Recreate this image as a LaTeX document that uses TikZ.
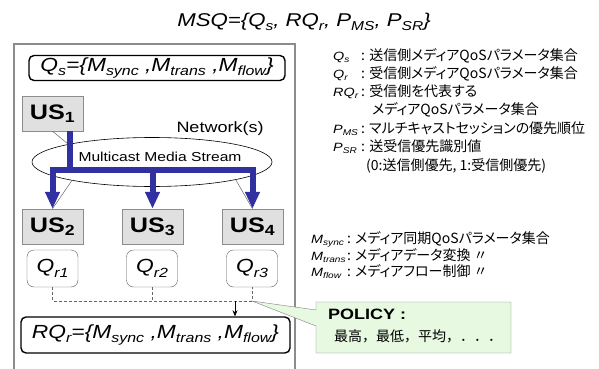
\documentclass[tikz,border=0pt]{standalone}
\usepackage{fontspec}
\setmainfont{Liberation Sans}[FakeStretch=1.2]
\newfontfamily\jpfont{Noto Sans CJK JP}[RawFeature=+palt]
\newfontfamily\jpwide{Noto Sans CJK JP}
\usetikzlibrary{shapes.geometric,shapes.callouts,arrows.meta}
\definecolor{streamblue}{RGB}{48,48,160}
\definecolor{policygreen}{RGB}{232,249,226}
\newcommand{\fs}[1]{\fontsize{#1}{#1}\selectfont}
\makeatletter
\newcommand{\sbi}[1]{\raisebox{-0.45ex}{\fontsize{\fpeval{0.7*\f@size}}{1}\selectfont\itshape #1}}
\makeatother
\tikzset{
    usbox/.style={draw=black!45, fill=black!12, minimum width=61pt, minimum height=35pt,
        inner sep=0pt, font={\fs{21}\bfseries}},
    qrbox/.style={draw=black!65, rounded corners=7pt, minimum width=51pt, minimum height=37pt,
        inner sep=0pt, font={\fs{19}\itshape}},
    setbox/.style={draw, line width=1.4pt, rounded corners=5pt, inner sep=0pt, font={\fs{19}\itshape}},
    stream/.style={draw=streamblue, line width=6pt},
    streamarrow/.style={stream, -{Triangle[length=17pt,width=14pt]}},
    link/.style={draw=black!60, line width=0.5pt},
    gather/.style={draw=black!60, dash pattern=on 3pt off 2pt, line width=0.6pt},
    sym/.style={anchor=base west, inner sep=0pt, font={\fs{12}\itshape}},
    def/.style={anchor=base west, inner sep=0pt, font={\fs{14}\jpfont}}
}
\begin{document}
\begin{tikzpicture}[x=1pt, y=-1pt]
    \useasboundingbox (0,0) rectangle (599,369);
    % title
    \node (title) at (304,22) [font={\fs{18.5}\itshape}]
        {MSQ=\{Q\sbi{s}, RQ\sbi{r}, P\sbi{MS}, P\sbi{SR}\}};
    % session frame
    \draw[black!45, line width=1.5pt] (14,44) rectangle (295,372);
    \node[setbox, minimum width=256pt, minimum height=25pt] (qs) at (157,68)
        {Q\sbi{s}=\{M\sbi{sync} ,M\sbi{trans} ,M\sbi{flow}\}};
    % network
    \node[draw, ellipse, line width=0.6pt, minimum width=240pt, minimum height=49pt] (net) at (152,162) {};
    \node[font={\fs{13}}] (mstream) at (160,157) {Multicast Media Stream};
    \node[font={\fs{15}}] (netlabel) at (220,129) {Network(s)};
    % user sites
    \node[usbox] (us1) at (52.5,113.5) {US\textsubscript{1}};
    \node[usbox] (us2) at (52.5,226.5) {US\textsubscript{2}};
    \node[usbox] (us3) at (152.5,226.5) {US\textsubscript{3}};
    \node[usbox] (us4) at (252.5,226.5) {US\textsubscript{4}};
    \draw[link] (us1.south) -- (net.168);
    \draw[link] (net.193) -- (us2.north);
    \draw[link] (net.348) -- (us4.north);
    \coordinate (branch) at (70,169.5);
    \draw[stream] (us1.south -| branch) -- (branch);
    \draw[stream, line cap=rect] (us2.north |- branch) -- (us4.north |- branch);
    \foreach \u in {us2,us3,us4}
        \draw[streamarrow] (\u.north |- branch) -- (\u.north);
    % receiver QoS
    \node[qrbox] (qr1) at (52.5,268.5) {Q\sbi{r1}};
    \node[qrbox] (qr2) at (152,268.5) {Q\sbi{r2}};
    \node[qrbox] (qr3) at (252,268.5) {Q\sbi{r3}};
    \coordinate (merge) at (235,301);
    \draw[gather] (qr1.south) |- (merge) -| (qr3.south);
    \draw[gather] (qr2.south) -- (qr2.south |- merge);
    \node[setbox, minimum width=269pt, minimum height=36pt] (rqr) at (155.5,335)
        {RQ\sbi{r}=\{M\sbi{sync} ,M\sbi{trans} ,M\sbi{flow}\}};
    \draw[-{Stealth[length=6pt,width=5pt]}, line width=0.6pt] (merge) -- (merge |- rqr.north);
    % policy
    \node[rectangle callout, draw=black!50, fill=policygreen, minimum width=195pt, minimum height=51pt,
        callout absolute pointer={(qr3.south |- merge)}, callout pointer width=16pt] (policy) at (413.5,327.5) {};
    \node[anchor=base west, inner sep=0pt, font={\fs{15}\bfseries}] (policyhead) at (328,319) {POLICY :};
    \node[anchor=base west, inner sep=0pt, font={\fs{14}\jpwide}] (policyitems) at (334,341) {最高，最低，平均，．．．};
    % legend
    \node[sym] (sqs) at (333,60) {Q\sbi{s}};
    \node[def] (dqs) at (361,60) {: 送信側メディアQoSパラメータ集合};
    \node[sym] (sqr) at (333,78) {Q\sbi{r}};
    \node[def] (dqr) at (361,78) {: 受信側メディアQoSパラメータ集合};
    \node[sym] (srq) at (333,96) {RQ\sbi{r}};
    \node[def] (drq) at (361,96) {: 受信側を代表する};
    \node[def] (drq2) at (372,114) {メディアQoSパラメータ集合};
    \node[sym] (sms) at (333,133) {P\sbi{MS}};
    \node[def] (dms) at (361,133) {: マルチキャストセッションの優先順位};
    \node[sym] (ssr) at (333,151) {P\sbi{SR}};
    \node[def] (dsr) at (361,151) {: 送受信優先識別値};
    \node[def] (dsr2) at (366,170) {(0:送信側優先, 1:受信側優先)};
    \node[sym] (msy) at (311,243) {M\sbi{sync}};
    \node[def] (dsy) at (347,243) {: メディア同期QoSパラメータ集合};
    \node[sym] (mtr) at (311,260) {M\sbi{trans}};
    \node[def] (dtr) at (347,260) {: メディアデータ変換 〃};
    \node[sym] (mfl) at (311,276) {M\sbi{flow}};
    \node[def] (dfl) at (347,276) {: メディアフロー制御 〃};
\end{tikzpicture}
\end{document}
